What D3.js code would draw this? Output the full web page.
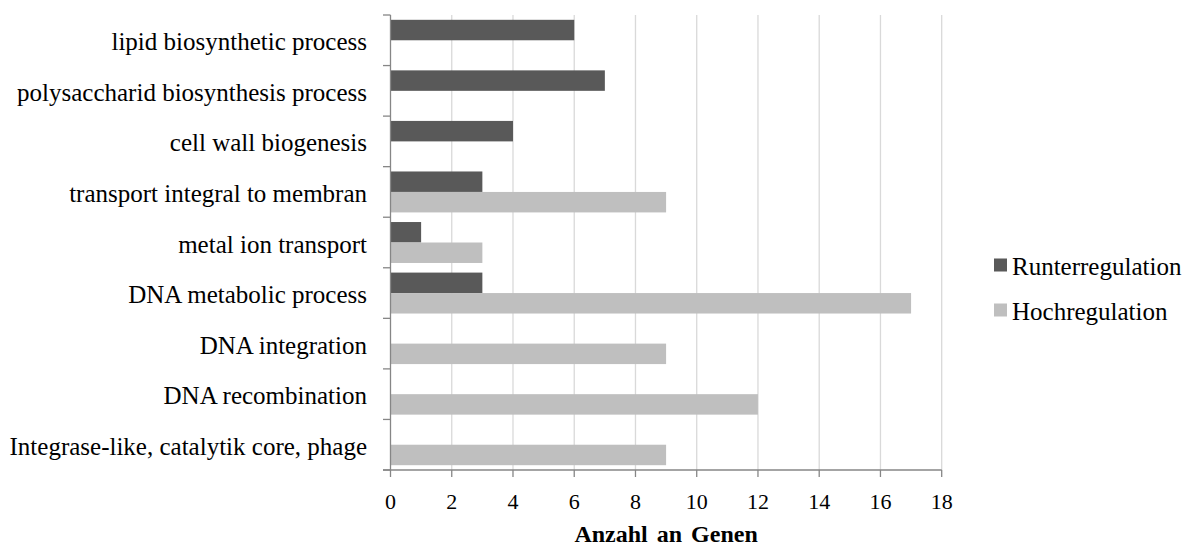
<!DOCTYPE html>
<html>
<head>
<meta charset="utf-8">
<script src="https://cdn.jsdelivr.net/npm/d3@7"></script>
<style>
  html, body { margin: 0; padding: 0; background: #fff; }
  svg { display: block; }
</style>
</head>
<body>
<svg id="chart" width="1189" height="547"></svg>
<script>
// GO categories, top to bottom
const categories = [
  "lipid biosynthetic process",
  "polysaccharid biosynthesis process",
  "cell wall biogenesis",
  "transport integral to membran",
  "metal ion transport",
  "DNA metabolic process",
  "DNA integration",
  "DNA recombination",
  "Integrase-like, catalytik core, phage"
];
const seriesNames = ["Runterregulation", "Hochregulation"];
const runterregulation = [6, 7, 4, 3, 1, 3, 0, 0, 0];
const hochregulation   = [0, 0, 0, 9, 3, 17, 9, 12, 9];
const xTicks = [0, 2, 4, 6, 8, 10, 12, 14, 16, 18];
const axisTitle = "Anzahl an Genen";
const colors = ["#595959", "#bfbfbf"];

(function () {
  const fontFamily = "'Liberation Serif', 'Times New Roman', Tinos, 'DejaVu Serif', serif";
  const svg = d3.select("#chart").attr("font-family", fontFamily);
  const plotLeft = 390.5, plotRight = 941.7, plotTop = 15, plotBottom = 470;

  const x = d3.scaleLinear().domain([0, 18]).range([plotLeft, plotRight]);
  const y = d3.scaleBand().domain(categories).range([plotTop, plotBottom]).paddingInner(0).paddingOuter(0);
  const inner = d3.scaleBand().domain(seriesNames).range([0, y.bandwidth()]).paddingInner(0).paddingOuter(0.235);

  // vertical gridlines
  svg.append("g").selectAll("line").data(xTicks.filter(d => d > 0)).join("line")
    .attr("x1", d => x(d)).attr("x2", d => x(d))
    .attr("y1", plotTop).attr("y2", plotBottom)
    .attr("stroke", "#d9d9d9").attr("stroke-width", 1.3);

  // bars
  const rows = categories.map((c, i) => ({ c, vals: [runterregulation[i], hochregulation[i]] }));
  const g = svg.append("g");
  rows.forEach(r => {
    r.vals.forEach((v, j) => {
      if (v <= 0) return;
      g.append("rect")
        .attr("x", x(0))
        .attr("y", y(r.c) + inner(seriesNames[j]))
        .attr("width", x(v) - x(0))
        .attr("height", inner.bandwidth())
        .attr("fill", colors[j]);
    });
  });

  // category axis (left)
  const axisColor = "#868686";
  svg.append("line").attr("x1", plotLeft).attr("x2", plotLeft).attr("y1", plotTop).attr("y2", plotBottom)
    .attr("stroke", axisColor).attr("stroke-width", 1.3);
  const boundaries = categories.map(c => y(c)).concat([plotBottom]);
  svg.append("g").selectAll("line").data(boundaries).join("line")
    .attr("x1", plotLeft - 7.5).attr("x2", plotLeft)
    .attr("y1", d => d).attr("y2", d => d)
    .attr("stroke", axisColor).attr("stroke-width", 1.3);
  svg.append("g").selectAll("text").data(categories).join("text")
    .attr("x", 367)
    .attr("y", d => y(d) + y.bandwidth() / 2 + 10)
    .attr("text-anchor", "end")
    .attr("font-size", 25)
    .text(d => d);

  // value axis (bottom)
  svg.append("line").attr("x1", plotLeft - 7.5).attr("x2", plotRight).attr("y1", plotBottom).attr("y2", plotBottom)
    .attr("stroke", axisColor).attr("stroke-width", 1.3);
  svg.append("g").selectAll("line").data(xTicks).join("line")
    .attr("x1", d => x(d)).attr("x2", d => x(d))
    .attr("y1", plotBottom).attr("y2", plotBottom + 7)
    .attr("stroke", axisColor).attr("stroke-width", 1.3);
  svg.append("g").selectAll("text").data(xTicks).join("text")
    .attr("x", d => x(d))
    .attr("y", 509)
    .attr("text-anchor", "middle")
    .attr("font-size", 22)
    .text(d => d);
  svg.append("text")
    .attr("x", (plotLeft + plotRight) / 2)
    .attr("y", 542)
    .attr("text-anchor", "middle")
    .attr("font-size", 24)
    .attr("font-weight", "bold")
    .style("word-spacing", "3px")
    .text(axisTitle);

  // legend
  const legend = svg.append("g");
  seriesNames.forEach((name, i) => {
    const cy = 265 + i * 45;
    legend.append("rect").attr("x", 994).attr("y", cy - 6.5).attr("width", 13).attr("height", 13)
      .attr("fill", colors[i]);
    legend.append("text").attr("x", 1012).attr("y", cy + 10)
      .attr("font-size", 25)
      .text(name);
  });
})();
</script>
</body>
</html>
